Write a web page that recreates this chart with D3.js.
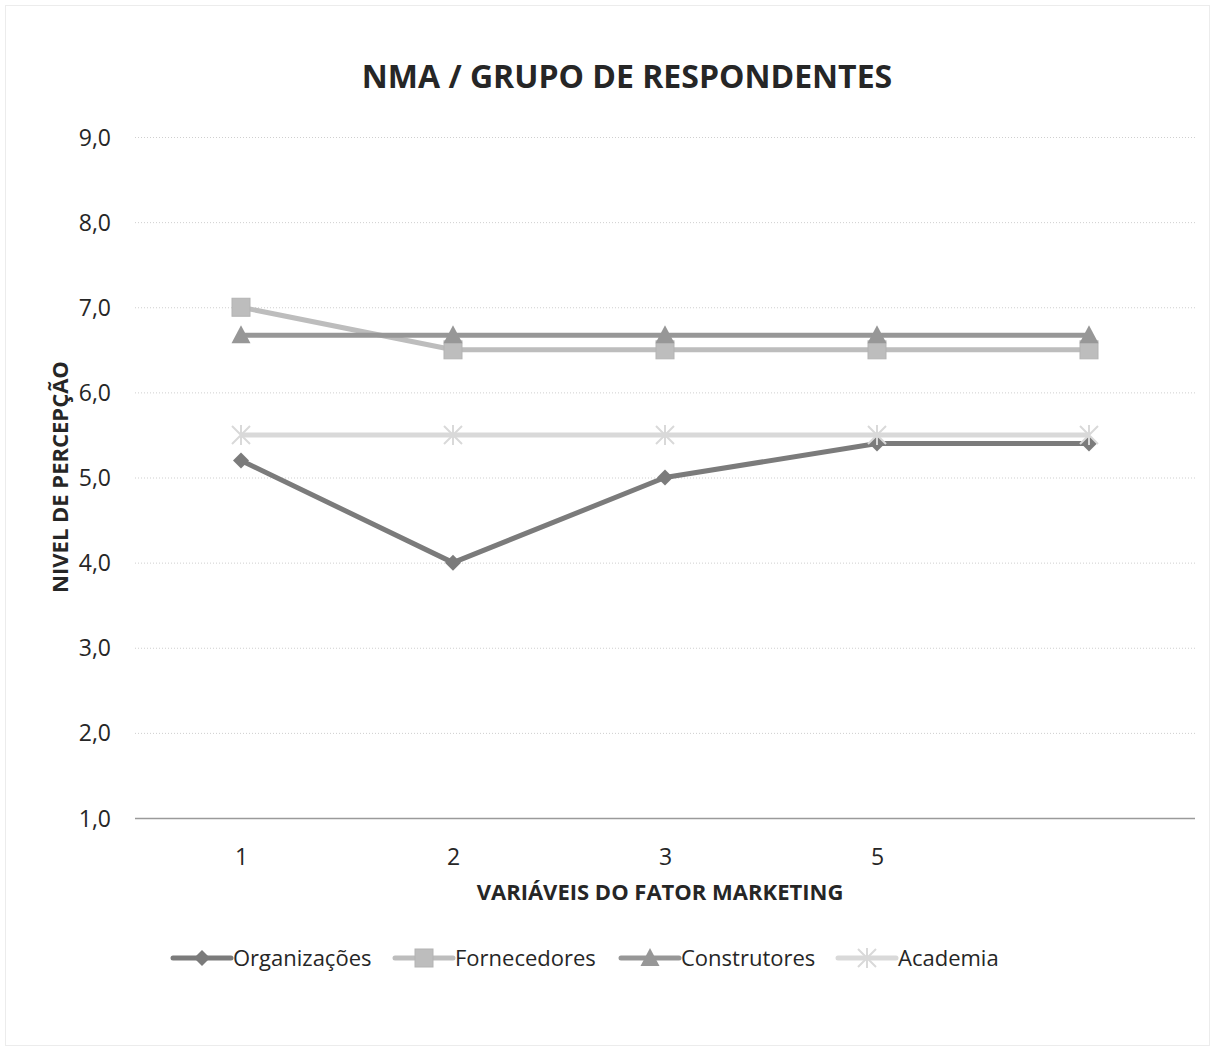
<!DOCTYPE html>
<html>
<head>
<meta charset="utf-8">
<script src="https://cdn.jsdelivr.net/npm/d3@7"></script>
<style>
  body { margin: 0; background: #fff; }
  svg text { font-family: "Open Sans", "Noto Sans", sans-serif; fill: #262626; }
</style>
</head>
<body>
<div id="chart"></div>
<script>
// dados
const categorias = ["1", "2", "3", "5", ""];
const organizacoes = [5.2, 4.0, 5.0, 5.4, 5.4];
const fornecedores = [7.0, 6.5, 6.5, 6.5, 6.5];
const construtores = [6.67, 6.67, 6.67, 6.67, 6.67];
const academia = [5.5, 5.5, 5.5, 5.5, 5.5];
const yTicks = [1, 2, 3, 4, 5, 6, 7, 8, 9];

const series = [
  { nome: "Organizações", valores: organizacoes, cor: "#7b7b7b", marker: "diamond" },
  { nome: "Fornecedores", valores: fornecedores, cor: "#bdbdbd", marker: "square" },
  { nome: "Construtores", valores: construtores, cor: "#979797", marker: "triangle" },
  { nome: "Academia", valores: academia, cor: "#d9d9d9", marker: "star" }
];

const W = 1215, H = 1050;
const margin = { top: 137, right: 20, bottom: 232, left: 135 };

const svg = d3.select("#chart").append("svg")
  .attr("width", W)
  .attr("height", H);

// borda externa
svg.append("rect")
  .attr("x", 5.5).attr("y", 5.5)
  .attr("width", W - 11).attr("height", H - 10)
  .attr("fill", "#fff")
  .attr("stroke", "#ececec");

const x = d3.scalePoint()
  .domain(d3.range(categorias.length))
  .range([margin.left, W - margin.right])
  .padding(0.5);

const y = d3.scaleLinear()
  .domain([1, 9])
  .range([H - margin.bottom, margin.top]);

// grade
svg.append("g")
  .selectAll("line")
  .data(yTicks.filter(d => d > 1))
  .join("line")
  .attr("x1", margin.left).attr("x2", W - margin.right)
  .attr("y1", d => y(d) + 0.5).attr("y2", d => y(d) + 0.5)
  .attr("stroke", "#cfcfcf")
  .attr("stroke-dasharray", "1,2");

// eixo Y
const yAxis = svg.append("g")
  .attr("transform", `translate(${margin.left}, 0)`)
  .call(d3.axisLeft(y).tickValues(yTicks).tickFormat(d => d3.format(".1f")(d).replace(".", ",")).tickSize(0).tickPadding(24));
yAxis.select(".domain").remove();
yAxis.selectAll("text")
  .style("font-size", "23px")
  .attr("dy", "0.35em");

// eixo X
const xAxis = svg.append("g")
  .attr("transform", `translate(0, ${y(1)})`)
  .call(d3.axisBottom(x).tickFormat(i => categorias[i]).tickSize(0).tickPadding(31));
xAxis.select(".domain")
  .attr("d", `M${margin.left},0.5H${W - margin.right}`)
  .attr("stroke", "#9a9a9a")
  .attr("stroke-width", 1.5);
xAxis.selectAll("text").style("font-size", "23px");

// títulos
svg.append("text")
  .attr("x", 627).attr("y", 88)
  .attr("text-anchor", "middle")
  .style("font-size", "32px").style("font-weight", "bold")
  .text("NMA / GRUPO DE RESPONDENTES");

svg.append("text")
  .attr("x", 660).attr("y", 900)
  .attr("text-anchor", "middle")
  .style("font-size", "22px").style("font-weight", "bold")
  .text("VARIÁVEIS DO FATOR MARKETING");

svg.append("text")
  .attr("transform", `translate(68, 477) rotate(-90)`)
  .attr("text-anchor", "middle")
  .style("font-size", "22px").style("font-weight", "bold")
  .text("NIVEL DE PERCEPÇÃO");

// marcadores
function drawMarker(g, tipo, cor) {
  if (tipo === "diamond") {
    g.append("path").attr("d", "M0,-8L8,0L0,8L-8,0Z").attr("fill", cor);
  } else if (tipo === "square") {
    g.append("rect").attr("x", -9).attr("y", -9).attr("width", 18).attr("height", 18)
      .attr("fill", cor).attr("stroke", "#b3b3b3").attr("stroke-width", 1);
  } else if (tipo === "triangle") {
    g.append("path").attr("d", "M0,-10L9.5,8L-9.5,8Z").attr("fill", cor);
  } else if (tipo === "star") {
    g.append("path").attr("d", "M0,-10V10M-9,-9L9,9M-9,9L9,-9")
      .attr("stroke", cor).attr("stroke-width", 2).attr("fill", "none");
  }
}

const line = d3.line()
  .x((d, i) => x(i))
  .y(d => y(d));

series.forEach(s => {
  const g = svg.append("g");
  g.append("path")
    .datum(s.valores)
    .attr("d", line)
    .attr("fill", "none")
    .attr("stroke", s.cor)
    .attr("stroke-width", 5)
    .attr("stroke-linejoin", "round");
  s.valores.forEach((v, i) => {
    const m = g.append("g").attr("transform", `translate(${x(i)}, ${y(v)})`);
    drawMarker(m, s.marker, s.cor);
  });
});

// legenda
const legendX = [173, 395, 621, 838];
series.forEach((s, i) => {
  const g = svg.append("g").attr("transform", `translate(${legendX[i]}, 958)`);
  g.append("line")
    .attr("x1", 0).attr("x2", 58)
    .attr("stroke", s.cor).attr("stroke-width", 5)
    .attr("stroke-linecap", "round");
  const m = g.append("g").attr("transform", "translate(29, 0)");
  drawMarker(m, s.marker, s.cor);
  g.append("text")
    .attr("x", 60).attr("y", 0).attr("dy", "0.35em")
    .style("font-size", "22px")
    .text(s.nome);
});
</script>
</body>
</html>
